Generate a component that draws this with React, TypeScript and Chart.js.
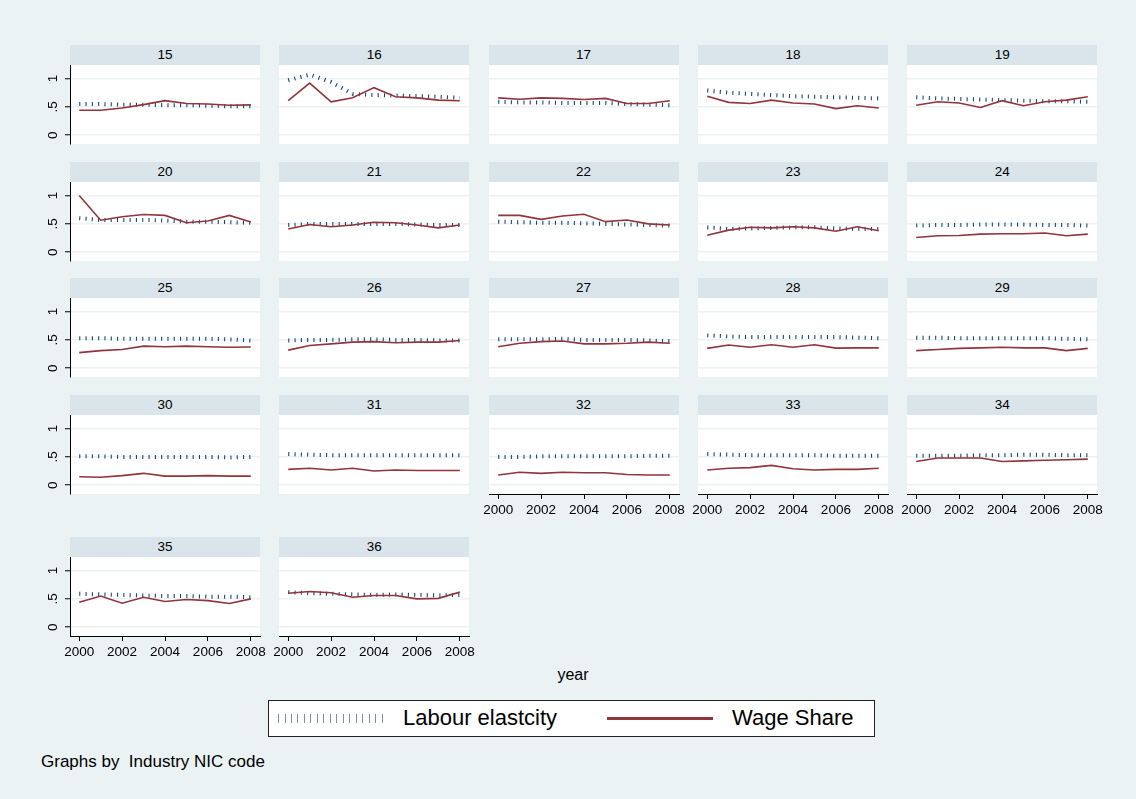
import React, { useEffect, useRef } from 'react';
import { Chart, registerables } from 'chart.js';

Chart.register(...registerables);

// ---- data ---------------------------------------------------------------
const years = [2000, 2001, 2002, 2003, 2004, 2005, 2006, 2007, 2008];
const xTickYears = [2000, 2002, 2004, 2006, 2008];
const yTickValues = [0, 0.5, 1];
const yTickLabels = ['0', '.5', '1'];
const industries = ['15', '16', '17', '18', '19', '20', '21', '22', '23', '24', '25',
  '26', '27', '28', '29', '30', '31', '32', '33', '34', '35', '36'];

const labour15 = [0.55, 0.55, 0.54, 0.54, 0.53, 0.53, 0.52, 0.51, 0.51];
const wage15 = [0.44, 0.44, 0.48, 0.54, 0.61, 0.56, 0.55, 0.53, 0.535];
const labour16 = [0.97, 1.07, 0.94, 0.73, 0.71, 0.70, 0.69, 0.68, 0.66];
const wage16 = [0.61, 0.92, 0.59, 0.66, 0.84, 0.68, 0.66, 0.62, 0.61];
const labour17 = [0.59, 0.58, 0.58, 0.57, 0.57, 0.57, 0.55, 0.54, 0.53];
const wage17 = [0.66, 0.635, 0.66, 0.65, 0.63, 0.65, 0.56, 0.56, 0.61];
const labour18 = [0.79, 0.75, 0.73, 0.71, 0.69, 0.68, 0.67, 0.66, 0.65];
const wage18 = [0.69, 0.58, 0.56, 0.62, 0.57, 0.55, 0.47, 0.52, 0.48];
const labour19 = [0.67, 0.65, 0.64, 0.63, 0.62, 0.61, 0.60, 0.60, 0.59];
const wage19 = [0.53, 0.59, 0.57, 0.49, 0.61, 0.52, 0.59, 0.62, 0.68];
const labour20 = [0.60, 0.57, 0.57, 0.57, 0.56, 0.54, 0.54, 0.53, 0.52];
const wage20 = [1.0, 0.565, 0.625, 0.665, 0.65, 0.52, 0.55, 0.65, 0.535];
const labour21 = [0.48, 0.50, 0.50, 0.50, 0.50, 0.50, 0.49, 0.48, 0.48];
const wage21 = [0.41, 0.49, 0.45, 0.48, 0.53, 0.52, 0.48, 0.43, 0.48];
const labour22 = [0.54, 0.53, 0.52, 0.52, 0.51, 0.50, 0.49, 0.48, 0.47];
const wage22 = [0.65, 0.65, 0.58, 0.64, 0.67, 0.54, 0.57, 0.50, 0.48];
const labour23 = [0.44, 0.41, 0.42, 0.43, 0.44, 0.44, 0.42, 0.41, 0.41];
const wage23 = [0.30, 0.39, 0.44, 0.43, 0.45, 0.43, 0.37, 0.45, 0.38];
const labour24 = [0.47, 0.48, 0.48, 0.49, 0.49, 0.49, 0.48, 0.48, 0.47];
const wage24 = [0.26, 0.29, 0.295, 0.32, 0.325, 0.325, 0.34, 0.29, 0.32];
const labour25 = [0.53, 0.53, 0.52, 0.52, 0.52, 0.52, 0.52, 0.51, 0.49];
const wage25 = [0.275, 0.31, 0.33, 0.39, 0.38, 0.39, 0.38, 0.37, 0.375];
const labour26 = [0.49, 0.50, 0.50, 0.51, 0.51, 0.50, 0.50, 0.49, 0.49];
const wage26 = [0.32, 0.40, 0.43, 0.46, 0.47, 0.45, 0.46, 0.46, 0.49];
const labour27 = [0.51, 0.51, 0.51, 0.52, 0.50, 0.50, 0.50, 0.49, 0.48];
const wage27 = [0.38, 0.44, 0.47, 0.48, 0.43, 0.43, 0.44, 0.46, 0.44];
const labour28 = [0.58, 0.56, 0.55, 0.55, 0.55, 0.55, 0.55, 0.54, 0.53];
const wage28 = [0.35, 0.41, 0.37, 0.415, 0.37, 0.415, 0.355, 0.36, 0.36];
const labour29 = [0.54, 0.54, 0.53, 0.53, 0.53, 0.53, 0.53, 0.52, 0.51];
const wage29 = [0.31, 0.33, 0.35, 0.36, 0.37, 0.36, 0.36, 0.31, 0.35];
const labour30 = [0.51, 0.51, 0.50, 0.50, 0.50, 0.50, 0.50, 0.49, 0.50];
const wage30 = [0.15, 0.14, 0.17, 0.21, 0.16, 0.16, 0.17, 0.16, 0.16];
const labour31 = [0.55, 0.54, 0.53, 0.53, 0.53, 0.53, 0.53, 0.53, 0.53];
const wage31 = [0.28, 0.30, 0.27, 0.30, 0.25, 0.27, 0.26, 0.26, 0.26];
const labour32 = [0.50, 0.50, 0.51, 0.51, 0.51, 0.51, 0.51, 0.52, 0.52];
const wage32 = [0.18, 0.23, 0.21, 0.23, 0.22, 0.22, 0.19, 0.18, 0.18];
const labour33 = [0.55, 0.54, 0.53, 0.53, 0.53, 0.53, 0.52, 0.52, 0.52];
const wage33 = [0.27, 0.30, 0.31, 0.35, 0.29, 0.27, 0.28, 0.28, 0.30];
const labour34 = [0.52, 0.52, 0.52, 0.53, 0.53, 0.54, 0.54, 0.53, 0.53];
const wage34 = [0.42, 0.48, 0.48, 0.48, 0.42, 0.43, 0.44, 0.45, 0.46];
const labour35 = [0.59, 0.58, 0.57, 0.56, 0.55, 0.55, 0.54, 0.54, 0.53];
const wage35 = [0.44, 0.55, 0.425, 0.53, 0.455, 0.49, 0.47, 0.42, 0.50];
const labour36 = [0.62, 0.60, 0.59, 0.58, 0.57, 0.58, 0.57, 0.56, 0.57];
const wage36 = [0.60, 0.63, 0.61, 0.53, 0.56, 0.56, 0.50, 0.51, 0.62];

const labourSeries = [labour15, labour16, labour17, labour18, labour19, labour20, labour21,
  labour22, labour23, labour24, labour25, labour26, labour27, labour28, labour29, labour30,
  labour31, labour32, labour33, labour34, labour35, labour36];
const wageSeries = [wage15, wage16, wage17, wage18, wage19, wage20, wage21, wage22, wage23,
  wage24, wage25, wage26, wage27, wage28, wage29, wage30, wage31, wage32, wage33, wage34,
  wage35, wage36];

const seriesNames = ['Labour elastcity', 'Wage Share'];

// ---- look ---------------------------------------------------------------
const FONT = '"Liberation Sans", Arial, Helvetica, sans-serif';
const BG = '#eaf2f3';
const STRIP = '#d9e5ea';
const NAVY = '#1a476f';
const MAROON = '#90353b';

const NCOL = 5;
const PLOT_W = 190;
const PLOT_H = 79;
const STRIP_H = 20;
const COL_X0 = 70;
const COL_PITCH = 209.3;
const ROW_TOPS = [45, 161.7, 278.4, 395.1, 536.7];
const AXIS_W = 40; // room for the y axis on the left column
const PAD_R = 16;
const AXIS_H = 30; // room for the x axis under the bottom panels

type PanelProps = {
  title: string;
  labour: number[];
  wage: number[];
  left: number;
  top: number;
  showY: boolean;
  showX: boolean;
};

function Panel({ title, labour, wage, left, top, showY, showX }: PanelProps) {
  const ref = useRef<HTMLCanvasElement | null>(null);
  const plotTop = top + STRIP_H;

  useEffect(() => {
    if (!ref.current) return;
    const tickFont = { family: FONT, size: 13.5 };
    const chart = new Chart(ref.current, {
      type: 'line',
      data: {
        datasets: [
          {
            label: seriesNames[1],
            data: years.map((yr, i) => ({ x: yr, y: wage[i] })),
            borderColor: MAROON,
            borderWidth: 1.6,
            pointRadius: 0,
            tension: 0,
            order: 0,
          },
          {
            label: seriesNames[0],
            data: years.map((yr, i) => ({ x: yr, y: labour[i] })),
            borderColor: NAVY,
            borderWidth: 4,
            borderDash: [1.1, 5.2],
            borderCapStyle: 'butt',
            pointRadius: 0,
            tension: 0,
            order: 1,
          },
        ],
      },
      options: {
        animation: false,
        responsive: false,
        maintainAspectRatio: false,
        events: [],
        layout: {
          padding: { left: showY ? 0 : AXIS_W, right: PAD_R, top: 0, bottom: showX ? 0 : AXIS_H },
        },
        plugins: { legend: { display: false }, tooltip: { enabled: false }, title: { display: false } },
        scales: {
          x: {
            type: 'linear',
            display: showX,
            min: 1999.57,
            max: 2008.43,
            afterBuildTicks: (s: any) => {
              s.ticks = xTickYears.map((v) => ({ value: v }));
            },
            afterFit: (s: any) => {
              s.height = showX ? AXIS_H : 0;
              s.paddingLeft = 0;
              s.paddingRight = 0;
            },
            ticks: {
              callback: (v: any) => String(v),
              font: tickFont,
              color: '#000',
              padding: 3,
              autoSkip: false,
              maxRotation: 0,
              minRotation: 0,
            },
            grid: { drawOnChartArea: false, drawTicks: true, tickLength: 5, tickColor: '#000', tickWidth: 1 },
            border: { display: true, color: '#000', width: 1 },
          },
          y: {
            type: 'linear',
            min: -0.155,
            max: 1.24,
            afterBuildTicks: (s: any) => {
              s.ticks = yTickValues.map((v) => ({ value: v }));
            },
            afterFit: (s: any) => {
              s.width = showY ? AXIS_W : 0;
              s.paddingTop = 0;
              s.paddingBottom = 0;
            },
            ticks: {
              display: showY,
              callback: (_v: any, i: number) => yTickLabels[i],
              font: tickFont,
              color: '#000',
              padding: 6,
              minRotation: 90,
              maxRotation: 90,
              crossAlign: 'center',
            },
            grid: {
              color: BG,
              lineWidth: 1.5,
              drawTicks: showY,
              tickLength: 5,
              tickColor: '#000',
              tickWidth: 1,
            },
            border: { display: showY, color: '#000', width: 1 },
          },
        },
      } as any,
    });
    return () => chart.destroy();
  }, [labour, wage, showX, showY]);

  return (
    <>
      <div
        style={{
          position: 'absolute', left, top, width: PLOT_W, height: STRIP_H, background: STRIP,
          textAlign: 'center', lineHeight: STRIP_H + 'px', fontSize: 13.5, color: '#000',
        }}
      >
        {title}
      </div>
      <div style={{ position: 'absolute', left, top: plotTop, width: PLOT_W, height: PLOT_H, background: '#fff' }} />
      <canvas
        ref={ref}
        width={PLOT_W + AXIS_W + PAD_R}
        height={PLOT_H + AXIS_H}
        style={{
          position: 'absolute', left: left - AXIS_W, top: plotTop,
          width: PLOT_W + AXIS_W + PAD_R, height: PLOT_H + AXIS_H, zIndex: 2,
        }}
      />
    </>
  );
}

export default function App() {
  const panels = industries.map((code, i) => {
    const row = Math.floor(i / NCOL);
    const col = i % NCOL;
    // an x axis goes under every panel that has no panel below it
    const showX = i + NCOL >= industries.length;
    return (
      <Panel
        key={code}
        title={code}
        labour={labourSeries[i]}
        wage={wageSeries[i]}
        left={COL_X0 + col * COL_PITCH}
        top={ROW_TOPS[row]}
        showY={col === 0}
        showX={showX}
      />
    );
  });

  return (
    <div
      style={{
        position: 'absolute', left: 0, top: 0, width: 1136, height: 799, background: BG,
        fontFamily: FONT, overflow: 'hidden',
      }}
    >
      {panels}
      <div style={{ position: 'absolute', left: 473, width: 200, top: 666, textAlign: 'center', fontSize: 16, color: '#000' }}>
        year
      </div>
      <div
        style={{
          position: 'absolute', left: 268, top: 700, width: 607, height: 37, background: '#fff',
          border: '1px solid #222', boxSizing: 'border-box',
        }}
      >
        <div
          style={{
            position: 'absolute', left: 9, top: 13, width: 109, height: 9,
            background: `repeating-linear-gradient(90deg, ${NAVY} 0 1px, transparent 1px 6.5px)`, opacity: 0.6,
          }}
        />
        <div style={{ position: 'absolute', left: 134, top: 4, fontSize: 22, whiteSpace: 'nowrap' }}>{seriesNames[0]}</div>
        <div style={{ position: 'absolute', left: 338, top: 16, width: 106, height: 3, background: MAROON }} />
        <div style={{ position: 'absolute', left: 463, top: 4, fontSize: 22, whiteSpace: 'nowrap' }}>{seriesNames[1]}</div>
      </div>
      <div style={{ position: 'absolute', left: 41, top: 752, fontSize: 17, whiteSpace: 'pre' }}>
        Graphs by  Industry NIC code
      </div>
    </div>
  );
}
